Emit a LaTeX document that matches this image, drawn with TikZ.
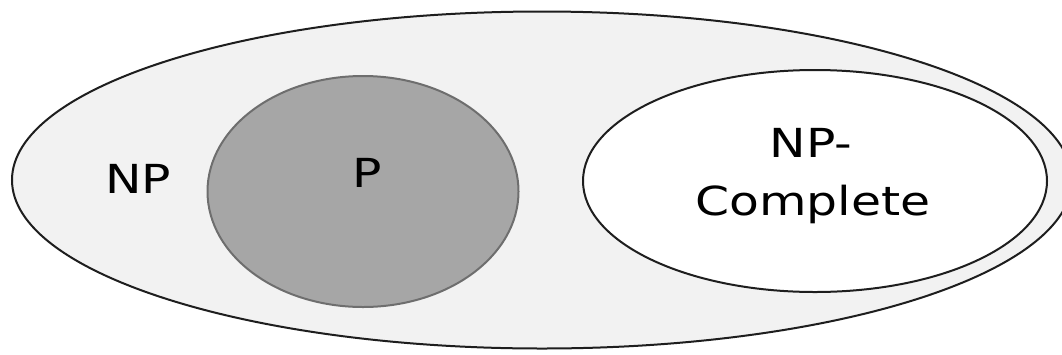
\documentclass[tikz,border=0pt]{standalone}
\usepackage{fontspec}
\setmainfont{DejaVu Sans}
\usetikzlibrary{shapes.geometric}
\definecolor{npfill}{HTML}{F2F2F2}
\definecolor{pfill}{HTML}{A6A6A6}
\definecolor{pline}{HTML}{6E6E6E}
\definecolor{dline}{HTML}{1E1E1E}
\newcommand{\wide}[1]{\scalebox{1.22}[1]{#1}}
\tikzset{
  setshape/.style={ellipse, inner sep=0pt, outer sep=0pt, line width=2pt},
  lbl/.style={inner sep=0pt, font=\fontsize{40}{58}\selectfont}
}
\begin{document}
\begin{tikzpicture}[x=1pt, y=-1pt]
\useasboundingbox (0,0) rectangle (1062,354);
\fill[white] (0,0) rectangle (1062,354);
\clip (0,0) rectangle (1062,354);
\node[setshape, draw=dline, fill=npfill, minimum width=1060pt, minimum height=337pt] (np) at (542,180) {};
\node[setshape, draw=pline, fill=pfill, minimum width=311pt, minimum height=231pt] (p) at (363,191.5) {};
\node[setshape, draw=dline, fill=white, minimum width=464pt, minimum height=222pt] (npc) at (815,181) {};
\node[lbl, anchor=base] (nplbl) at (138,193) {\wide{NP}};
\node[lbl, anchor=base] (plbl) at (367,187) {\wide{P}};
\node[lbl, anchor=base] (npclbl1) at (811,157) {\wide{NP-}};
\node[lbl, anchor=base] (npclbl2) at (813,215) {\wide{Complete}};
\end{tikzpicture}
\end{document}
